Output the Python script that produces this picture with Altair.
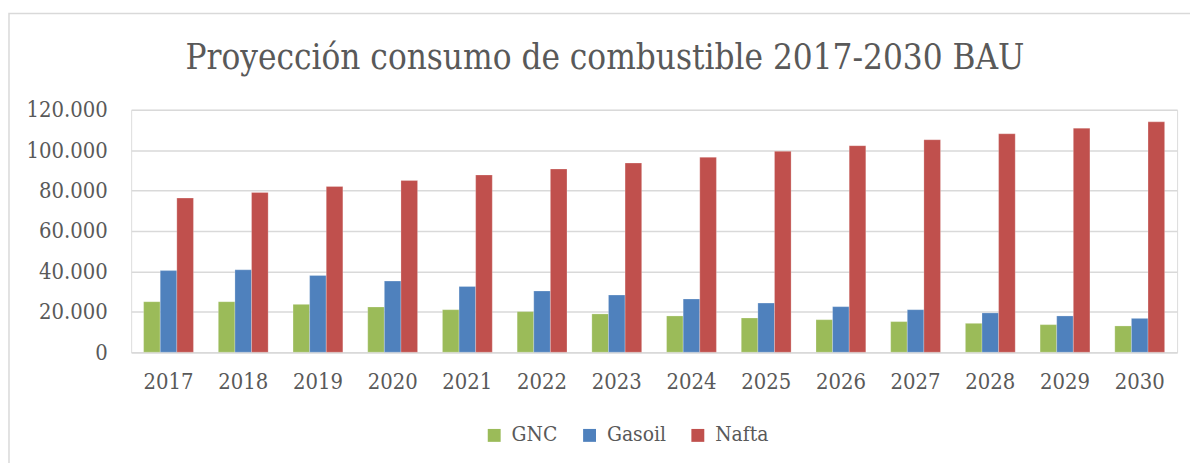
import altair as alt
import pandas as pd

years = [str(y) for y in range(2017, 2031)]
gnc = [25000, 25000, 23700, 22400, 21050, 20100, 18950, 17950, 16950, 16100, 15150, 14300, 13650, 13000]
gasoil = [40400, 40800, 38000, 35200, 32550, 30300, 28300, 26350, 24350, 22550, 21050, 19450, 17950, 16750]
nafta = [76300, 79100, 82050, 85000, 87750, 90700, 93650, 96500, 99450, 102250, 105200, 108150, 110950, 114050]
series = ["GNC", "Gasoil", "Nafta"]
colors = ["#9BBB59", "#4F81BD", "#C0504D"]
title_text = "Proyección consumo de combustible 2017-2030 BAU"

rows = []
for i, y in enumerate(years):
    rows.append({"Año": y, "Serie": "GNC", "Valor": gnc[i]})
    rows.append({"Año": y, "Serie": "Gasoil", "Valor": gasoil[i]})
    rows.append({"Año": y, "Serie": "Nafta", "Valor": nafta[i]})
df = pd.DataFrame(rows)

FONT = "DejaVu Serif Condensed"
TXT = "#595959"

bars = alt.Chart(df).mark_bar(stroke="white", strokeWidth=0.4, strokeOpacity=0.6).encode(
    x=alt.X("Año:N", sort=years,
            scale=alt.Scale(paddingInner=0.333, paddingOuter=0.1667),
            axis=alt.Axis(title=None, labelAngle=0, ticks=False, domain=True,
                          domainColor="#d9d9d9", domainWidth=1.5,
                          labelFont=FONT, labelFontSize=22, labelColor=TXT,
                          labelPadding=20)),
    xOffset=alt.XOffset("Serie:N", sort=series),
    y=alt.Y("Valor:Q", scale=alt.Scale(domain=[0, 120000], nice=False),
            axis=alt.Axis(title=None, values=[0, 20000, 40000, 60000, 80000, 100000, 120000],
                          labelExpr="datum.value == 0 ? '0' : format(datum.value/1000, 'd') + '.000'",
                          ticks=False, domain=False, grid=True,
                          gridColor="#d9d9d9", gridWidth=1.5,
                          labelFont=FONT, labelFontSize=22, labelColor=TXT,
                          labelPadding=24)),
    color=alt.Color("Serie:N", sort=series,
                    scale=alt.Scale(domain=series, range=colors),
                    legend=alt.Legend(title=None, orient="none", direction="horizontal",
                                      legendX=355, legendY=317,
                                      symbolType="square", symbolSize=169,
                                      symbolStrokeWidth=0,
                                      labelFont=FONT, labelFontSize=21, labelColor=TXT,
                                      labelOffset=7, columnPadding=21)),
)

single = pd.DataFrame({"t": [title_text]})

frame = alt.Chart(single).mark_rect(
    fill="transparent", stroke="#d9d9d9", strokeWidth=1.5
).encode(x=alt.value(-123), y=alt.value(-97), x2=alt.value(1200), y2=alt.value(500))

title = alt.Chart(single).mark_text(
    font=FONT, fontSize=35, color=TXT, align="center", baseline="alphabetic"
).encode(x=alt.value(477), y=alt.value(-41), text="t:N")

chart = alt.layer(frame, bars, title).properties(
    width=1053, height=244,
    autosize=alt.AutoSizeParams(type="none"),
    padding={"left": 124, "top": 101, "right": 13, "bottom": 110},
).configure_view(stroke=None).configure(background="white")

chart.save("out.html", embed_options={"renderer": "svg", "actions": False})
